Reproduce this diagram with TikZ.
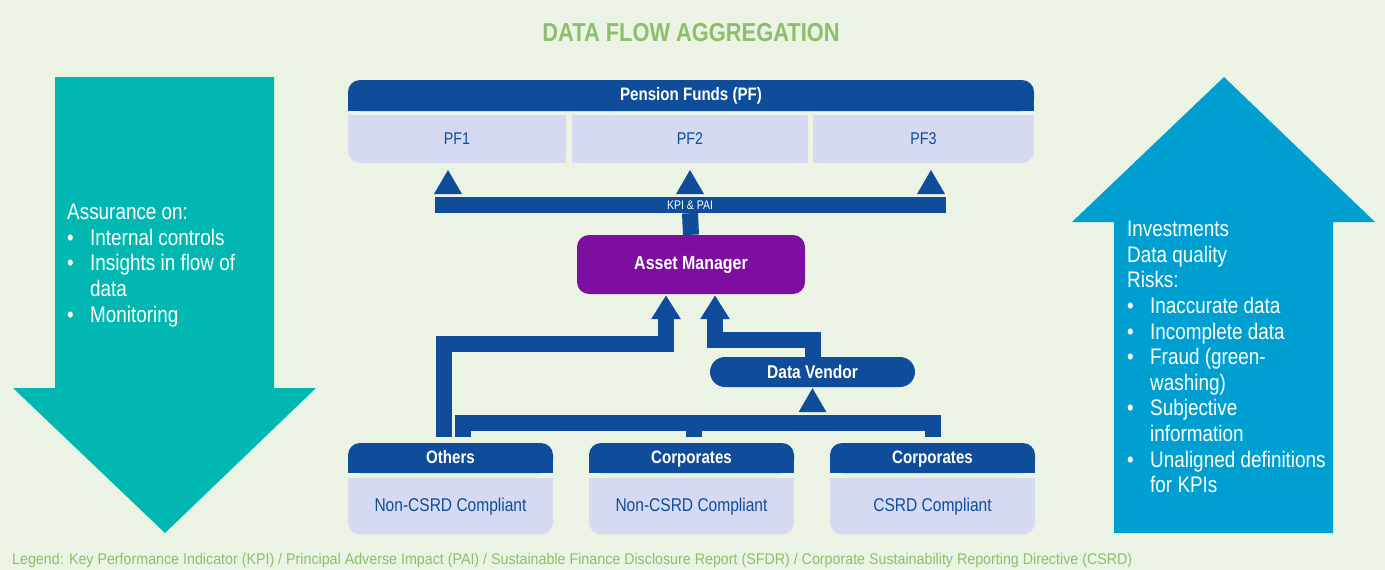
\documentclass[tikz,border=0pt]{standalone}
\usepackage{fontspec}
\setmainfont{Liberation Sans}[FakeStretch=0.84]
\newfontfamily\legendfont{Liberation Sans}[FakeStretch=0.92]
\usetikzlibrary{arrows.meta,backgrounds,positioning}

\definecolor{bgcol}{HTML}{EBF3E4}
\definecolor{navy}{HTML}{0F4D9B}
\definecolor{lav}{HTML}{D5D9F2}
\definecolor{amcol}{HTML}{7D0EA0}
\definecolor{teal}{HTML}{00B8B1}
\definecolor{sky}{HTML}{009FD1}
\definecolor{leaf}{HTML}{8CBF6C}

\newcommand{\fs}[2]{\fontsize{#1}{#2}\selectfont}
\newcommand{\bul}{\makebox[23pt][l]{\textbullet}}
\newcommand{\ind}{\hspace*{23pt}}

\begin{document}
\begin{tikzpicture}[x=1pt,y=-1pt,
	hdbox/.style={fill=navy,rounded corners=12pt,text=white,font=\fs{18}{20}\bfseries,minimum height=30pt,inner sep=0pt,text height=15pt,text depth=4pt},
	bdbox/.style={fill=lav,rounded corners=12pt,text=navy,font=\fs{18.5}{20},minimum height=56pt,minimum width=205pt,inner sep=0pt,text height=13.5pt,text depth=4pt},
	pfbox/.style={fill=lav,rounded corners=12pt,text=navy,font=\fs{17}{20},minimum height=48pt,inner sep=0pt},
	bar/.style={draw=navy,line width=16pt,line join=miter},
	flow/.style={bar,-{Triangle[width=28pt,length=24pt]}},
	arrowtext/.style={anchor=north west,align=left,inner sep=0pt,text=white,font=\fs{22.5}{25.6}}]
	\useasboundingbox (0,0) rectangle (1385,570);

	% Title
	\node[text=leaf,font=\fs{26}{28}\bfseries] (title) at (691,33) {DATA FLOW AGGREGATION};

	% Pension funds
	\node[hdbox,minimum width=686pt,minimum height=31pt,text height=13pt] (pf) at (691,95.5) {Pension Funds (PF)};
	\node[pfbox,minimum width=218pt] (pf1) at (457,139) {PF1};
	\node[pfbox,minimum width=236pt] (pf2) at (690,139) {PF2};
	\node[pfbox,minimum width=221pt] (pf3) at (923.5,139) {PF3};

	% KPI bar
	\node[fill=navy,text=white,font=\fs{12.5}{13},minimum width=511pt,minimum height=16pt,inner sep=0pt] (kpi) at (690,205) {KPI \& PAI};
	\foreach \tx in {448,690,931}
		\fill[navy] (\tx-14,194) -- (\tx+14,194) -- (\tx,170) -- cycle;

	% Asset manager and data vendor
	\node[fill=amcol,rounded corners=12pt,text=white,font=\fs{19}{20}\bfseries,minimum width=228pt,minimum height=59pt] (am) at (691,264.5) {Asset Manager};
	\node[fill=navy,rounded corners=15pt,text=white,font=\fs{18.5}{20}\bfseries,minimum width=205pt,minimum height=30pt] (dv) at (812.5,372) {Data Vendor};

	% Sources
	\node[hdbox,minimum width=205pt] (othhd) at (450.5,458) {Others};
	\node[bdbox,below=5pt of othhd] (othbd) {Non-CSRD Compliant};
	\node[hdbox,minimum width=205pt] (corahd) at (691.5,458) {Corporates};
	\node[bdbox,below=5pt of corahd] (corabd) {Non-CSRD Compliant};
	\node[hdbox,minimum width=205pt] (corbhd) at (932.5,458) {Corporates};
	\node[bdbox,below=5pt of corbhd] (corbbd) {CSRD Compliant};

	% Connectors
	\draw[bar] (kpi.south) -- (am.north);
	\draw[flow] ([shift={(-6.5,-6)}]othhd.north) -- ++(0,-93) -| ([shift={(-25,1)}]am.south);
	\draw[flow] (dv.north) -- ++(0,-17) -| ([shift={(24,1)}]am.south);
	\draw[bar] ([shift={(12,-6)}]othhd.north) -- ++(0,-14) -| ([shift={(0,-6)}]corbhd.north);
	\draw[bar] ([shift={(2.5,-6)}]corahd.north) -- ++(0,-14);
	\fill[navy] ([yshift=-1pt]dv.south) -- ++(14,24) -- ++(-28,0) -- cycle;

	% Big arrows
	\fill[teal] (55,77) -- (274,77) -- (274,388) -- (316,388) -- (165,533) -- (13,388) -- (55,388) -- cycle;
	\fill[sky] (1224,77) -- (1375,222) -- (1333,222) -- (1333,533) -- (1114,533) -- (1114,222) -- (1072,222) -- cycle;
	\node[arrowtext] (assur) at (67,204) {Assurance on:\\
		\bul Internal controls\\
		\bul Insights in flow of\\
		\ind data\\
		\bul Monitoring};
	\node[arrowtext] (risks) at (1127,221) {Investments\\
		Data quality\\
		Risks:\\
		\bul Inaccurate data\\
		\bul Incomplete data\\
		\bul Fraud (green-\\
		\ind washing)\\
		\bul Subjective\\
		\ind information\\
		\bul Unaligned definitions\\
		\ind for KPIs};

	% Legend
	\node[anchor=base west,inner sep=0pt,text=leaf,font=\legendfont\fs{15.5}{16}] (legend) at (12,564) {Legend: Key Performance Indicator (KPI) / Principal Adverse Impact (PAI) / Sustainable Finance Disclosure Report (SFDR) / Corporate Sustainability Reporting Directive (CSRD)};

	% Square corners and background
	\begin{scope}[on background layer]
		\fill[bgcol] (0,0) rectangle (1385,570);
		\fill[navy] (pf.west) rectangle (pf.south east);
		\fill[lav] (pf1.north west) rectangle (pf1.east);
		\fill[lav] (pf1.north) rectangle (pf1.south east);
		\fill[lav] (pf2.north west) rectangle (pf2.south east);
		\fill[lav] (pf3.north west) rectangle (pf3.east);
		\fill[lav] (pf3.north west) rectangle (pf3.south);
		\foreach \hd/\bd in {othhd/othbd,corahd/corabd,corbhd/corbbd} {
			\fill[navy] (\hd.west) rectangle (\hd.south east);
			\fill[lav] (\bd.north west) rectangle (\bd.east);
		}
	\end{scope}
\end{tikzpicture}
\end{document}
